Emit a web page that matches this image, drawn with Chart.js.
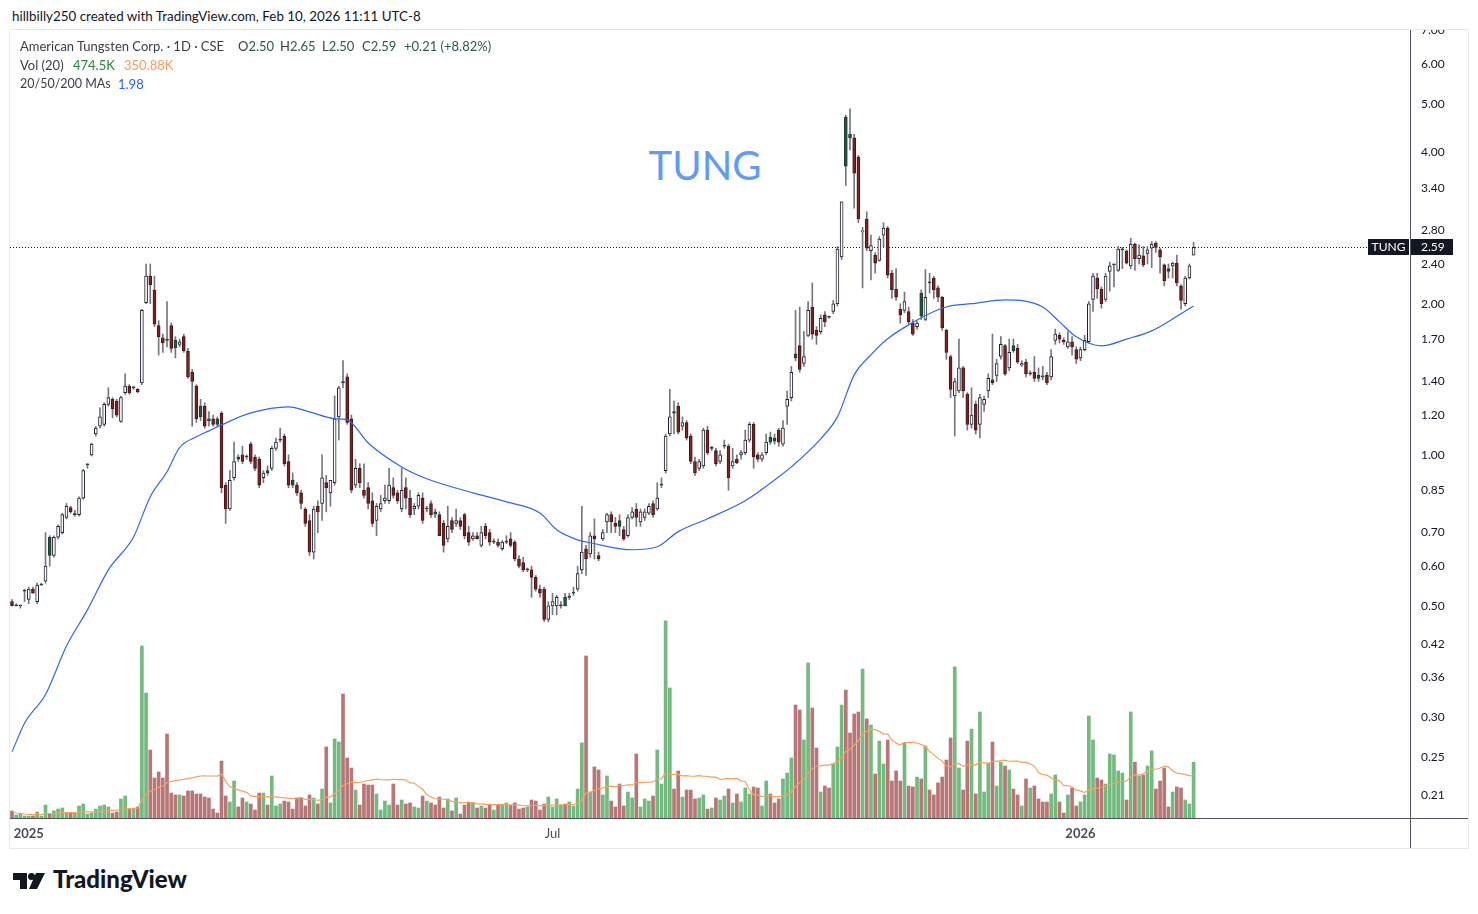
<!DOCTYPE html>
<html>
<head>
<meta charset="utf-8">
<script src="https://cdn.jsdelivr.net/npm/chart.js@4.4.0/dist/chart.umd.min.js"></script>
<style>
body{margin:0;background:#fff;width:1478px;height:914px;overflow:hidden;position:relative;font-family:Lato,"Liberation Sans",sans-serif;color:#131722}
#hdr{position:absolute;left:12px;top:8px;font-size:13.4px;line-height:16px;white-space:nowrap}
#box{position:absolute;left:9px;top:29px;width:1458px;height:818px;border:1px solid #e9e9ea}
#c{position:absolute;left:10px;top:30px}
.lg{position:absolute;font-size:13px;line-height:16px;white-space:nowrap;color:#3b3e48;z-index:2}
.v{color:#2e5c45}
#wm{position:absolute;left:605px;top:144px;width:200px;text-align:center;font-size:40px;line-height:42px;color:#5e9cf6}
#logo{position:absolute;left:13px;top:873px}
#tv{position:absolute;left:53px;top:867px;font-size:24px;line-height:24px;font-weight:900;color:#131722}
</style>
</head>
<body>
<div id="hdr">hillbilly250 created with TradingView.com, Feb 10, 2026 11:11 UTC-8</div>
<div id="box"></div>
<div id="wm">TUNG</div>
<canvas id="c" width="1458" height="818"></canvas>
<div class="lg" style="left:20px;top:38px">American Tungsten Corp. · 1D · CSE</div>
<div class="lg" style="left:238px;top:38px">O<span class="v">2.50</span></div>
<div class="lg" style="left:280px;top:38px">H<span class="v">2.65</span></div>
<div class="lg" style="left:322px;top:38px">L<span class="v">2.50</span></div>
<div class="lg" style="left:362px;top:38px">C<span class="v">2.59</span></div>
<div class="lg v" style="left:404px;top:38px">+0.21 (+8.82%)</div>
<div class="lg" style="left:20px;top:57px">Vol (20)</div>
<div class="lg" style="left:73px;top:57px;color:#23883b">474.5K</div>
<div class="lg" style="left:124px;top:57px;color:#ff9a58">350.88K</div>
<div class="lg" style="left:20px;top:76px;font-size:12.5px">20/50/200 MAs</div>
<div class="lg" style="left:118px;top:76px;color:#2962ff">1.98</div>
<svg id="logo" width="34" height="17" viewBox="0 0 34 17">
  <rect x="0" y="0" width="14" height="7" fill="#131722"/>
  <rect x="7" y="0" width="7" height="16" fill="#131722"/>
  <circle cx="18.5" cy="3.5" r="3.5" fill="#131722"/>
  <polygon points="23,0 32,0 24,16 16,16" fill="#131722"/>
</svg>
<div id="tv">TradingView</div>
<script>
// daily OHLC (first bar = late Dec 2024, last = Feb 10 2026)
const opens = [
  .51,.50,.50,.535,.515,.54,.51,.55,.56,.685,
  .63,.685,.70,.75,.785,.76,.76,.82,.955,1.00,
  1.10,1.14,1.15,1.26,1.29,1.28,1.165,1.33,1.37,1.36,
  1.35,1.39,2.01,2.27,2.13,1.81,1.71,1.70,1.81,1.69,
  1.66,1.72,1.61,1.46,1.37,1.25,1.25,1.18,1.18,1.18,
  1.21,.87,.78,.90,.99,1.00,.99,1.05,.99,.98,
  .90,.93,.94,1.03,1.07,1.09,.97,.89,.87,.84,
  .78,.74,.64,.79,.80,.88,.84,.88,1.19,1.40,
  1.43,1.18,.87,.94,.85,.86,.81,.74,.78,.81,
  .81,.86,.84,.78,.86,.82,.78,.79,.82,.78,
  .80,.77,.76,.73,.68,.74,.73,.74,.76,.70,
  .68,.69,.66,.72,.70,.67,.67,.65,.67,.68,
  .67,.62,.61,.59,.59,.57,.54,.54,.47,.50,
  .50,.50,.52,.52,.53,.54,.59,.65,.635,.69,
  .63,.68,.735,.76,.73,.74,.71,.69,.75,.78,
  .735,.75,.765,.80,.78,.87,.93,1.10,1.22,1.25,
  1.14,1.16,1.09,.97,.94,.95,1.12,1.03,1.02,.97,
  1.04,1.04,.95,.98,1.00,1.01,1.07,1.15,1.00,.98,
  1.01,1.085,1.08,1.12,1.05,1.25,1.30,1.59,1.65,1.52,
  1.73,1.97,1.77,1.76,1.90,1.885,1.93,2.00,2.48,4.71,
  4.35,4.28,3.92,2.78,2.95,2.55,2.50,2.44,2.74,2.83,
  2.30,2.14,1.95,1.94,1.93,1.83,1.80,2.10,1.86,2.205,
  2.25,2.15,2.06,1.77,1.57,1.31,1.34,1.49,1.32,1.15,
  1.26,1.15,1.26,1.34,1.41,1.44,1.57,1.65,1.49,1.65,
  1.63,1.51,1.53,1.45,1.46,1.44,1.435,1.44,1.43,1.69,
  1.73,1.69,1.64,1.68,1.62,1.56,1.62,1.68,2.04,2.25,
  2.14,2.04,2.32,2.39,2.33,2.56,2.55,2.38,2.63,2.46,
  2.49,2.52,2.58,2.64,2.56,2.39,2.35,2.38,2.41,2.17,
  2.00,2.25,2.50
];
const highs = [
  .515,.505,.50,.54,.545,.545,.555,.555,.70,.69,
  .69,.725,.765,.80,.79,.775,.825,.935,.96,1.055,
  1.14,1.24,1.27,1.36,1.30,1.29,1.31,1.45,1.38,1.37,
  1.355,1.95,2.40,2.40,2.27,1.85,1.74,2.02,1.83,1.72,
  1.70,1.74,1.63,1.48,1.38,1.29,1.27,1.22,1.20,1.19,
  1.22,.88,.93,1.06,1.00,1.04,1.00,1.06,1.00,.99,
  .93,.95,1.04,1.08,1.13,1.10,1.00,.92,.88,.85,
  .785,.76,.79,.81,1.00,.91,.89,1.31,1.37,1.54,
  1.45,1.20,.98,.96,.96,.88,.84,.80,.83,.87,
  .94,.90,.85,.94,.90,.85,.80,.84,.84,.79,
  .81,.78,.77,.74,.79,.75,.78,.75,.765,.72,
  .70,.70,.72,.73,.71,.68,.68,.675,.69,.70,
  .675,.63,.625,.595,.60,.575,.55,.545,.51,.53,
  .525,.51,.53,.53,.545,.60,.79,.66,.70,.745,
  .64,.71,.765,.77,.75,.76,.72,.76,.785,.80,
  .78,.78,.80,.81,.88,.90,1.10,1.35,1.28,1.27,
  1.19,1.17,1.10,.99,.98,1.13,1.14,1.04,1.03,1.02,
  1.07,1.05,1.03,1.00,1.02,1.12,1.16,1.16,1.01,1.01,
  1.10,1.11,1.10,1.13,1.17,1.34,1.50,1.94,1.97,1.76,
  2.02,2.20,1.80,1.90,1.93,1.89,2.03,2.60,3.19,4.75,
  4.89,4.35,3.95,2.84,3.05,2.74,2.53,2.72,2.90,2.85,
  2.33,2.35,2.00,2.11,1.97,1.86,1.85,2.13,2.34,2.30,
  2.27,2.17,2.07,1.78,1.58,1.42,1.70,1.50,1.33,1.36,
  1.28,1.32,1.31,1.45,1.74,1.55,1.72,1.66,1.70,1.70,
  1.66,1.54,1.55,1.47,1.57,1.49,1.50,1.46,1.62,1.78,
  1.75,1.71,1.76,1.72,1.64,1.64,1.73,2.02,2.30,2.30,
  2.16,2.30,2.42,2.40,2.60,2.59,2.56,2.70,2.64,2.62,
  2.60,2.60,2.66,2.66,2.58,2.40,2.40,2.42,2.50,2.18,
  2.27,2.40,2.65
];
const lows = [
  .50,.50,.495,.51,.505,.53,.505,.55,.555,.60,
  .625,.68,.695,.745,.765,.755,.755,.815,.94,.995,
  1.09,1.13,1.14,1.25,1.185,1.19,1.16,1.32,1.32,1.35,
  1.33,1.38,2.00,2.00,1.80,1.58,1.60,1.64,1.60,1.56,
  1.64,1.60,1.42,1.14,1.16,1.17,1.13,1.14,1.14,1.14,
  .84,.73,.775,.89,.97,.96,.98,.96,.93,.86,
  .88,.91,.93,1.02,1.06,.95,.86,.86,.83,.78,
  .72,.63,.62,.70,.74,.77,.79,.87,1.07,1.36,
  1.15,.84,.86,.86,.82,.78,.72,.69,.77,.80,
  .80,.82,.80,.77,.78,.75,.76,.78,.73,.77,
  .75,.75,.69,.64,.67,.70,.72,.71,.68,.66,
  .675,.68,.655,.68,.66,.665,.655,.645,.665,.655,
  .615,.595,.585,.585,.52,.535,.52,.465,.465,.48,
  .48,.495,.50,.515,.525,.535,.58,.575,.625,.62,
  .615,.675,.70,.70,.70,.69,.675,.685,.745,.72,
  .72,.74,.76,.75,.775,.86,.92,1.09,1.10,1.10,
  1.12,1.07,.96,.91,.93,.94,1.00,1.02,.95,.96,
  1.03,.85,.94,.96,.98,1.00,1.06,.94,.97,.97,
  1.00,1.05,1.05,1.04,1.04,1.15,1.28,1.54,1.46,1.50,
  1.72,1.70,1.66,1.74,1.80,1.87,1.91,1.98,2.45,3.44,
  4.05,3.10,2.90,2.15,2.55,2.23,2.30,2.43,2.60,2.25,
  2.05,2.03,1.83,1.92,1.82,1.73,1.78,1.86,1.85,2.10,
  2.05,2.02,1.77,1.55,1.30,1.09,1.33,1.30,1.12,1.13,
  1.10,1.08,1.22,1.30,1.38,1.40,1.55,1.44,1.47,1.60,
  1.52,1.50,1.43,1.44,1.40,1.40,1.41,1.38,1.41,1.66,
  1.67,1.66,1.63,1.58,1.52,1.54,1.61,1.67,1.93,2.05,
  1.96,2.02,2.12,2.16,2.32,2.35,2.40,2.35,2.33,2.40,
  2.37,2.40,2.36,2.53,2.30,2.17,2.25,2.25,2.17,1.95,
  1.98,2.24,2.50
];
const closes = [
  .50,.50,.50,.535,.54,.53,.55,.55,.60,.63,
  .685,.72,.76,.79,.77,.76,.82,.93,.955,1.05,
  1.13,1.19,1.26,1.30,1.235,1.20,1.30,1.37,1.33,1.36,
  1.335,1.94,2.27,2.18,1.82,1.72,1.67,1.69,1.63,1.635,
  1.68,1.61,1.43,1.40,1.18,1.19,1.14,1.17,1.15,1.15,
  .86,.78,.89,.97,.98,.97,.99,.97,.94,.87,
  .92,.92,1.03,1.06,1.07,.96,.87,.87,.84,.80,
  .73,.64,.78,.77,.90,.86,.89,1.18,1.36,1.39,
  1.16,.85,.94,.88,.83,.80,.73,.79,.80,.82,
  .87,.83,.81,.85,.82,.76,.79,.83,.74,.78,
  .76,.762,.69,.66,.72,.71,.74,.72,.69,.67,
  .69,.68,.70,.69,.67,.67,.66,.67,.67,.66,
  .62,.60,.59,.59,.57,.54,.53,.47,.50,.51,
  .52,.50,.50,.52,.53,.58,.64,.62,.69,.68,
  .62,.70,.76,.735,.72,.72,.68,.75,.77,.75,
  .77,.77,.79,.76,.82,.87,1.09,1.19,1.21,1.11,
  1.16,1.08,.97,.92,.97,1.12,1.01,1.03,.96,1.00,
  1.04,.90,.97,.965,1.01,1.07,1.15,.99,.98,1.00,
  1.06,1.06,1.065,1.06,1.13,1.29,1.46,1.56,1.48,1.57,
  1.94,1.74,1.73,1.87,1.84,1.88,2.00,2.57,3.19,3.76,
  4.28,3.64,2.95,2.785,2.58,2.61,2.41,2.69,2.83,2.28,
  2.13,2.06,1.90,2.02,1.84,1.74,1.83,1.89,2.06,2.20,
  2.13,2.06,1.79,1.60,1.35,1.40,1.49,1.34,1.15,1.20,
  1.12,1.30,1.29,1.42,1.39,1.52,1.66,1.45,1.60,1.61,
  1.53,1.52,1.45,1.45,1.42,1.42,1.43,1.39,1.57,1.74,
  1.70,1.68,1.68,1.64,1.55,1.62,1.69,2.00,2.27,2.14,
  2.00,2.27,2.38,2.39,2.57,2.56,2.41,2.63,2.46,2.50,
  2.39,2.56,2.63,2.59,2.48,2.22,2.32,2.41,2.20,2.03,
  2.25,2.38,2.59
];
// volume in thousands of shares
const volumes = [
  60,25,34,17,17,17,51,17,110,34,
  60,76,85,42,42,42,102,119,34,42,
  76,102,110,94,42,51,162,187,76,76,
  94,1462,1062,578,340,391,340,714,212,196,
  196,187,230,230,204,204,178,170,76,42,
  484,187,136,314,94,170,136,119,68,212,
  212,110,357,102,119,144,136,76,170,170,
  102,196,170,119,246,604,128,672,646,1054,
  510,425,238,110,289,280,280,204,68,144,
  110,289,110,153,119,128,94,85,187,144,
  128,110,178,85,162,60,170,34,110,136,
  128,85,102,85,110,68,110,110,128,110,
  128,76,85,94,153,144,68,119,178,94,
  162,110,119,136,102,246,638,1377,221,434,
  408,196,357,144,94,289,102,221,170,544,
  94,162,144,187,578,289,1675,1105,246,400,
  178,238,238,162,170,196,76,85,170,153,
  187,246,128,204,136,255,204,264,255,102,
  314,204,128,162,332,382,510,960,918,663,
  1318,935,595,221,272,255,459,604,960,1088,
  722,884,901,1266,842,790,374,654,459,663,
  314,400,314,638,272,264,348,332,612,238,
  196,298,348,493,680,1284,425,238,654,756,
  204,901,221,468,646,272,475,442,408,246,
  196,102,332,255,272,162,136,136,204,366,
  136,42,196,255,102,136,196,867,663,340,
  323,289,544,536,400,382,153,901,475,357,
  366,442,570,246,314,425,94,221,264,255,
  153,119,474.5
];
// moving average line, read at bar positions along its path
const maIdx = [0,3,8,13,18,23,29,33,37,40,44,47,50,57,66,71,77,80,85,93,
  99,110,118,126,130,135,138,148,154,159,166,175,183,186,193,197,201,205,209,214,
  221,224,229,237,246,250,254,260,266,272,277,282];
const maVals = [0.256,0.292,0.333,0.416,0.491,0.590,0.686,0.825,0.925,1.033,1.086,1.116,1.147,1.212,1.246,1.218,1.18,1.174,1.056,0.946,
  0.896,0.840,0.806,0.766,0.709,0.677,0.668,0.647,0.656,0.703,0.746,0.810,0.904,0.946,1.076,1.190,1.443,1.582,1.703,1.815,
  1.945,1.981,2.00,2.036,1.97,1.84,1.718,1.648,1.70,1.766,1.865,1.98];
const priceTicks = [7, 6, 5, 4, 3.4, 2.8, 2.4, 2, 1.7, 1.4, 1.2, 1, 0.85, 0.7, 0.6, 0.5, 0.42, 0.36, 0.3, 0.25, 0.21];
const timeIdx = [4, 129, 255];
const timeLabels = ['2025', 'Jul', '2026'];
const symbol = 'TUNG';

const n = closes.length;
const lastClose = closes[n - 1];

let wickData = [], bodyData = [], bodyFill = [], bodyEdge = [], volData = [], volColor = [], volMa = [];
for (let i = 0; i < n; i++) {
    wickData.push({x: i, y: [lows[i], highs[i]]});
    bodyData.push({x: i, y: [opens[i], closes[i]]});
    const prev = i > 0 ? closes[i - 1] : opens[i];
    if (closes[i] > opens[i]) { bodyFill.push('#ffffff'); bodyEdge.push('#1e222d'); }
    else if (closes[i] >= prev) { bodyFill.push('#1f5a3f'); bodyEdge.push('#1b3b2e'); }
    else { bodyFill.push('#7d2222'); bodyEdge.push('#451818'); }
    volData.push({x: i, y: volumes[i]});
    volColor.push(closes[i] >= opens[i] ? '#72ba7d' : '#b87676');
    // 20-bar average of volume
    const w = volumes.slice(Math.max(0, i - 19), i + 1);
    volMa.push({x: i, y: w.reduce((a, b) => a + b, 0) / w.length});
}
const maData = maIdx.map((x, k) => ({x: x, y: maVals[k]}));

const overlay = {
    id: 'overlay',
    beforeDatasetsDraw(chart) {
        const {ctx, chartArea: a, scales: {y}} = chart;
        const py = Math.round(y.getPixelForValue(lastClose)) + 0.5;
        ctx.save();
        ctx.strokeStyle = '#131722';
        ctx.lineWidth = 1;
        ctx.setLineDash([1, 2]);
        ctx.beginPath();
        ctx.moveTo(a.left, py);
        ctx.lineTo(a.right, py);
        ctx.stroke();
        ctx.restore();
    },
    afterDraw(chart) {
        const {ctx, chartArea: a, scales: {y}} = chart;
        ctx.save();
        ctx.strokeStyle = '#50535e';
        ctx.lineWidth = 1;
        ctx.beginPath();
        ctx.moveTo(a.right + 0.5, 0);
        ctx.lineTo(a.right + 0.5, chart.height);
        ctx.moveTo(0, a.bottom + 0.5);
        ctx.lineTo(chart.width, a.bottom + 0.5);
        ctx.stroke();
        const py = Math.round(y.getPixelForValue(lastClose));
        ctx.fillStyle = '#131722';
        ctx.fillRect(a.right - 42, py - 8, 41, 16);
        ctx.fillRect(a.right + 1, py - 8, 42, 16);
        ctx.fillStyle = '#ffffff';
        ctx.font = '12px Lato, "Liberation Sans", sans-serif';
        ctx.textBaseline = 'middle';
        ctx.textAlign = 'center';
        ctx.fillText(symbol, a.right - 21.5, py + 0.5);
        ctx.textAlign = 'left';
        ctx.fillText(lastClose.toFixed(2), a.right + 11, py + 0.5);
        ctx.restore();
    }
};

const chart = new Chart(document.getElementById('c'), {
    type: 'bar',
    data: {
        datasets: [
            {type: 'line', data: maData, yAxisID: 'y', borderColor: '#2f67f5', borderWidth: 1.2,
             pointRadius: 0, cubicInterpolationMode: 'monotone', order: 1},
            {type: 'line', data: volMa, yAxisID: 'yv', borderColor: '#f7a25e', borderWidth: 1.2,
             pointRadius: 0, tension: 0, order: 1},
            {data: bodyData, yAxisID: 'y', backgroundColor: bodyFill, borderColor: bodyEdge, borderWidth: 1,
             borderSkipped: false, barThickness: 3, minBarLength: 1, grouped: false, order: 2},
            {data: wickData, yAxisID: 'y', backgroundColor: '#74777f', barThickness: 1, grouped: false, order: 3},
            {data: volData, yAxisID: 'yv', backgroundColor: volColor, barThickness: 3, grouped: false, order: 5}
        ]
    },
    options: {
        responsive: false,
        animation: false,
        events: [],
        layout: {padding: 0},
        plugins: {legend: {display: false}, tooltip: {enabled: false}},
        scales: {
            x: {
                type: 'linear',
                offset: false,
                min: -0.477,
                max: 333.65,
                grid: {display: false, drawTicks: false},
                border: {display: false},
                afterBuildTicks: (s) => { s.ticks = timeIdx.map(v => ({value: v})); },
                afterFit: (s) => { s.height = 30; s.paddingLeft = 0; s.paddingRight = 0; },
                ticks: {
                    autoSkip: false,
                    maxRotation: 0,
                    padding: 8,
                    color: '#4a4d57',
                    font: (c) => ({family: 'Lato, "Liberation Sans", sans-serif', size: 13,
                        weight: (c.tick && c.tick.value === 129) ? 'normal' : 'bold'}),
                    callback: (v) => timeLabels[timeIdx.indexOf(v)]
                }
            },
            y: {
                type: 'logarithmic',
                position: 'right',
                min: 0.189,
                max: 7.02,
                grid: {display: false, drawTicks: false},
                border: {display: false},
                afterBuildTicks: (s) => { s.ticks = priceTicks.map(v => ({value: v})); },
                afterFit: (s) => { s.width = 58; s.paddingTop = 0; s.paddingBottom = 0; },
                ticks: {
                    padding: 11,
                    color: '#131722',
                    font: {family: 'Lato, "Liberation Sans", sans-serif', size: 12},
                    callback: (v) => Number(v).toFixed(2)
                }
            },
            yv: {
                type: 'linear',
                display: false,
                min: 0,
                max: 6698
            }
        }
    },
    plugins: [overlay]
});
</script>
</body>
</html>
